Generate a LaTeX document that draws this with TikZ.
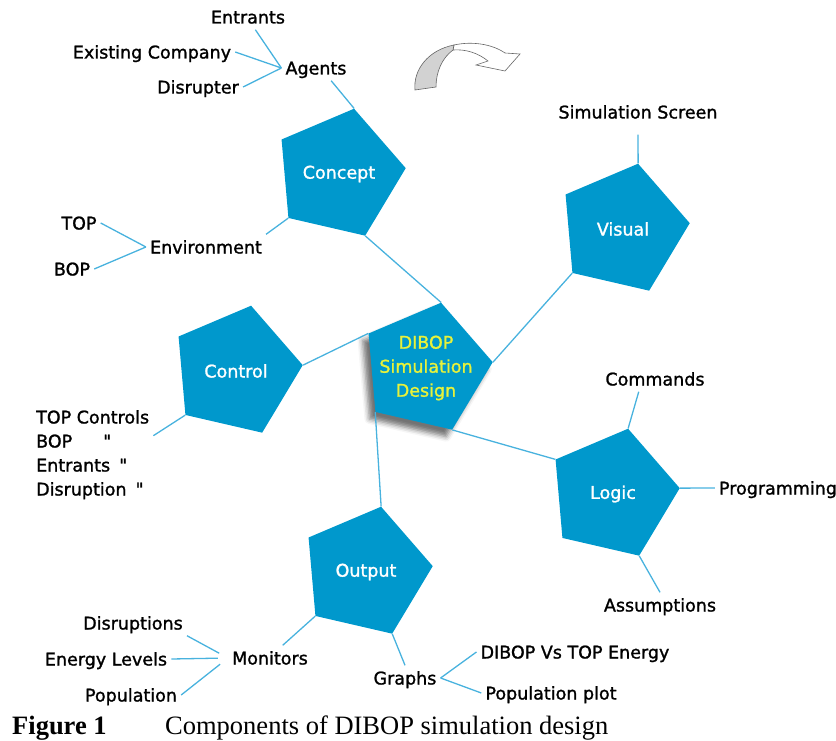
\documentclass[tikz,border=0pt]{standalone}
\usepackage{fontspec}
\setmainfont{DejaVu Sans}[FakeBold=1.3]
\newfontfamily\quotefont{DejaVu Sans}[FakeBold=1.3]
\newfontfamily\capfont{Liberation Serif}
\usetikzlibrary{shapes.geometric,shadows.blur}

\definecolor{pentblue}{RGB}{0,152,204}
\definecolor{linkblue}{RGB}{72,178,222}
\definecolor{dibopyellow}{RGB}{232,242,58}

\tikzset{
  pent/.style={regular polygon, regular polygon sides=5, shape border rotate=-13,
    minimum size=134pt, inner sep=0pt, fill=pentblue},
  penttext/.style={text=white, font=\fontsize{17.5}{24}\selectfont},
  tag/.style={font=\fontsize{17.5}{24}\selectfont, inner sep=4pt,
    text height=15pt, text depth=2pt},
  link/.style={draw=linkblue, line width=1.3pt},
}

\begin{document}
\begin{tikzpicture}[x=1pt,y=-1pt]
  \useasboundingbox (0,0) rectangle (836,741);

  % the five parts round the design
  \node[pent, label={[penttext]center:Concept}] (concept) at (339,174) {};
  \node[pent, label={[penttext]center:Visual}] (visual) at (623,229) {};
  \node[pent, label={[penttext]center:Control}] (control) at (236,371) {};
  \node[pent, label={[penttext]center:Logic}] (logic) at (613,494) {};
  \node[pent, label={[penttext]center:Output}] (output) at (366,572) {};
  \node[pent, blur shadow={shadow xshift=-6pt, shadow yshift=-7pt,
      shadow blur radius=5pt, shadow opacity=55},
    label={[penttext, text=dibopyellow, align=center]center:{DIBOP\\Simulation\\Design}}]
    (dibop) at (426,368) {};

  % turn arrow
  \filldraw[draw=gray!80!black, fill=white, line width=.6pt]
    (454,45) .. controls (472,41) and (492,44) .. (505,53) -- (520,54) --
    (505,71) -- (476,65) -- (488,61) .. controls (478,53) and (466,49) .. (453,50) -- cycle;
  \filldraw[draw=gray!80!black, fill=gray!35, line width=.6pt]
    (415,90) .. controls (413,70) and (428,50) .. (454,45) -- (453,50)
    .. controls (442,58) and (436,72) .. (436,87) -- cycle;

  % text items
  \node[tag] (agents) at (316,68) {Agents};
  \node[tag] (entrants) at (248,17) {Entrants};
  \node[tag] (company) at (152,52) {Existing Company};
  \node[tag] (disrupter) at (198,87) {Disrupter};
  \node[tag] (environment) at (206,247) {Environment};
  \node[tag] (topenv) at (79,223) {TOP};
  \node[tag] (bopenv) at (72,269) {BOP};
  \node[tag] (screen) at (638,112) {Simulation Screen};
  \node[tag, anchor=west] (topctl) at (32,417) {TOP Controls};
  \node[tag, anchor=west] (bopctl) at (32,441) {BOP\hspace{31pt}{\quotefont"}};
  \node[tag, anchor=west] (entctl) at (32,465) {Entrants\hspace{9pt}{\quotefont"}};
  \node[tag, anchor=west] (disctl) at (32,489) {Disruption\hspace{9pt}{\quotefont"}};
  \node[tag] (commands) at (655,379) {Commands};
  \node[tag] (programming) at (778,488) {Programming};
  \node[tag] (assumptions) at (660,605) {Assumptions};
  \node[tag] (monitors) at (270,658) {Monitors};
  \node[tag] (disruptions) at (133,623) {Disruptions};
  \node[tag] (energy) at (106,659) {Energy Levels};
  \node[tag] (population) at (131,695) {Population};
  \node[tag] (graphs) at (405,678) {Graphs};
  \node[tag] (versus) at (575,652) {DIBOP Vs TOP Energy};
  \node[tag] (popplot) at (551,693) {Population plot};

  % links
  \draw[link] (agents.west) -- (entrants.-60);
  \draw[link] (agents.west) -- (company.east);
  \draw[link] (agents.west) -- (disrupter.east);
  \draw[link] (agents.-40) -- (concept.corner 1);
  \draw[link] (environment.north east) -- (concept.corner 3);
  \draw[link] (environment.west) -- (topenv.east);
  \draw[link] (environment.west) -- (bopenv.east);
  \draw[link] (concept.corner 4) -- (dibop.corner 1);
  \draw[link, shorten >=10pt] (visual.corner 1) -- (screen.south);
  \draw[link] (visual.corner 3) -- (dibop.corner 5);
  \draw[link] (control.corner 5) -- (dibop.corner 2);
  \draw[link] (control.corner 3) -- ([yshift=-6pt]topctl.south east);
  \draw[link] (dibop.corner 4) -- (logic.corner 2);
  \draw[link] (dibop.corner 3) -- (output.corner 1);
  \draw[link] (logic.corner 1) -- (commands.-142);
  \draw[link] (logic.corner 5) -- (programming.west);
  \draw[link] (logic.corner 4) -- (assumptions.north);
  \draw[link] (output.corner 3) -- (monitors.45);
  \draw[link] (output.corner 4) -- (graphs.north);
  \draw[link, shorten <=10pt] (monitors.west) -- (disruptions.south east);
  \draw[link, shorten <=10pt] (monitors.west) -- (energy.east);
  \draw[link, shorten <=10pt] (monitors.west) -- (population.east);
  \draw[link] (graphs.east) -- (versus.west);
  \draw[link] (graphs.east) -- (popplot.west);

  % caption
  \node[anchor=base west, inner sep=0pt, font=\capfont\fontsize{26.5}{30}\selectfont\bfseries]
    (figno) at (12,734) {Figure 1};
  \node[anchor=base west, inner sep=0pt, font=\capfont\fontsize{26.5}{30}\selectfont]
    (figtext) at (165,734) {Components of DIBOP simulation design};
\end{tikzpicture}
\end{document}
